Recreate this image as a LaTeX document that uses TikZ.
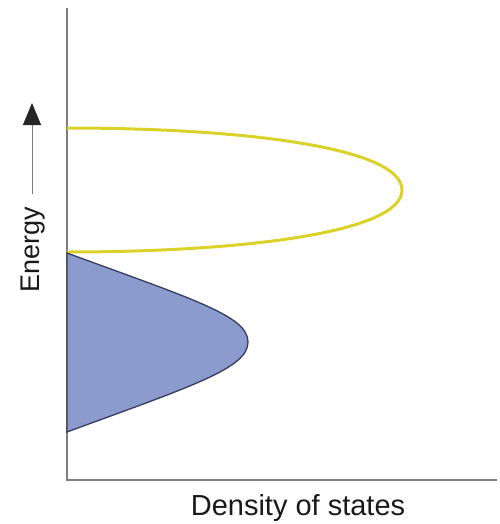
\documentclass[tikz,border=0pt]{standalone}
\usepackage{fontspec}
\setmainfont{Liberation Sans}
\usepackage{tikz}
\usetikzlibrary{arrows.meta, calc, positioning}

\definecolor{axisgray}{RGB}{125,125,125}
\definecolor{bandyellow}{RGB}{218,210,40}
\definecolor{bandblue}{RGB}{140,155,206}
\definecolor{banddark}{RGB}{55,58,92}

\begin{document}
\begin{tikzpicture}[x=1pt, y=-1pt, >=Stealth]
  \useasboundingbox (0,0) rectangle (499,524);
  \tikzset{axisline/.style={line width=2pt, draw=axisgray},
           labeltext/.style={inner sep=0pt, text=black!90}}

  % axes
  \draw[axisline] (67,8) -- (67,480) -- (497,480);

  % conduction band (empty)
  \draw[line width=3pt, bandyellow] (67,128) .. controls (240,128) and (402,147) .. (402,190)
        .. controls (402,233) and (240,252) .. (67,252);

  % valence band (filled)
  \draw[line width=1.3pt, draw=banddark, fill=bandblue] (67,253) .. controls (195,300) and (248,316) .. (248,342)
        .. controls (248,368) and (195,385) .. (67,432) -- cycle;

  % labels
  \node[labeltext, font=\fontsize{29}{34}\selectfont, anchor=base] (dos) at (298,515) {Density of states};
  \node[labeltext, font=\fontsize{27}{32}\selectfont, anchor=base, rotate=90] (energy) at (39,250) {Energy};
  \coordinate (arrowtail) at (32,194);
  \coordinate (arrowtip) at (32,103);
  \draw[-{Triangle[length=22pt, width=18pt, color=black!85]}, line width=1pt, axisgray] (arrowtail) -- (arrowtip);
\end{tikzpicture}
\end{document}
